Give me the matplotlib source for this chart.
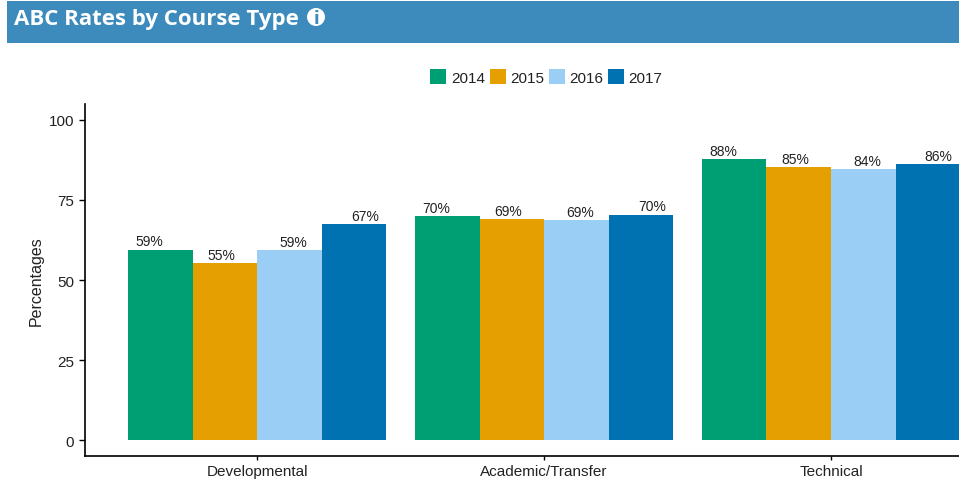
import numpy as np
import matplotlib
matplotlib.use('Agg')
import matplotlib.pyplot as plt
from matplotlib.patches import Rectangle, Circle

# ---------- data ----------
TITLE = "ABC Rates by Course Type"
categories = ["Developmental", "Academic/Transfer", "Technical"]
years = ["2014", "2015", "2016", "2017"]
colors = ["#009E73", "#E69F00", "#9ACEF4", "#0072B2"]
v2014 = [59.5, 70.0, 87.7]
v2015 = [55.3, 69.0, 85.1]
v2016 = [59.2, 68.6, 84.6]
v2017 = [67.3, 70.4, 86.0]
l2014 = ["59%", "70%", "88%"]
l2015 = ["55%", "69%", "85%"]
l2016 = ["59%", "69%", "84%"]
l2017 = ["67%", "70%", "86%"]
yticks = [0, 25, 50, 75, 100]

W, H = 959, 481
plt.rcParams['font.family'] = ['Liberation Sans', 'DejaVu Sans']
fig = plt.figure(figsize=(W / 100, H / 100), dpi=100)

# ---------- header ----------
fig.add_artist(Rectangle((7 / W, 1 - 43.5 / H), (W - 7) / W, 41.5 / H,
                         transform=fig.transFigure, color='#3D8BBD', lw=0))
fig.text(14 / W, 1 - 19.5 / H, TITLE, color='white', fontsize=16,
         fontweight='bold', family='Open Sans', va='center', ha='left')
fig.add_artist(Circle((316, H - 18), 9, transform=None, color='white', lw=0))
fig.text(316 / W, 1 - 18.5 / H, "i", color='#3D8BBD', fontsize=12,
         fontweight='bold', family='DejaVu Sans', va='center', ha='center')

# ---------- bars ----------
ax = fig.add_axes([85 / W, 1 - 457 / H, (W - 85) / W, 352.5 / H])
x = np.arange(len(categories))
bar_w = 0.225
label_w = 0.25
series = [v2014, v2015, v2016, v2017]
labels = [l2014, l2015, l2016, l2017]
for i, (vals, labs) in enumerate(zip(series, labels)):
    off = i - 1.5
    ax.bar(x + off * bar_w, vals, bar_w, color=colors[i], label=years[i], lw=0)
    for xi, v, lab in zip(x, vals, labs):
        ax.text(xi + off * label_w, v + 0.4, lab, ha='center', va='bottom',
                fontsize=10, color='#222222')

ax.set_xlim(-0.6, 2.446)
ax.set_ylim(-4.83, 105)
ax.set_xticks(x)
ax.set_xticklabels(categories, fontsize=11, color='#222222')
ax.set_yticks(yticks)
ax.tick_params(axis='y', labelsize=11, labelcolor='#222222', length=4, width=1, pad=4)
ax.tick_params(axis='x', length=3, width=1, pad=3)
ax.set_ylabel("Percentages", fontsize=11.5, color='#222222', labelpad=3)
ax.spines['top'].set_visible(False)
ax.spines['right'].set_visible(False)
ax.spines['left'].set_linewidth(1.2)
ax.spines['bottom'].set_linewidth(1.2)

# ---------- legend ----------
fig.legend(loc='center', bbox_to_anchor=(546.5 / W, 1 - 78 / H), ncol=4, frameon=False,
           fontsize=11, handlelength=1.05, handleheight=1.05, handletextpad=0.3,
           columnspacing=0.3, labelcolor='#222222', borderpad=0)

fig.savefig('out.png', dpi=100)
